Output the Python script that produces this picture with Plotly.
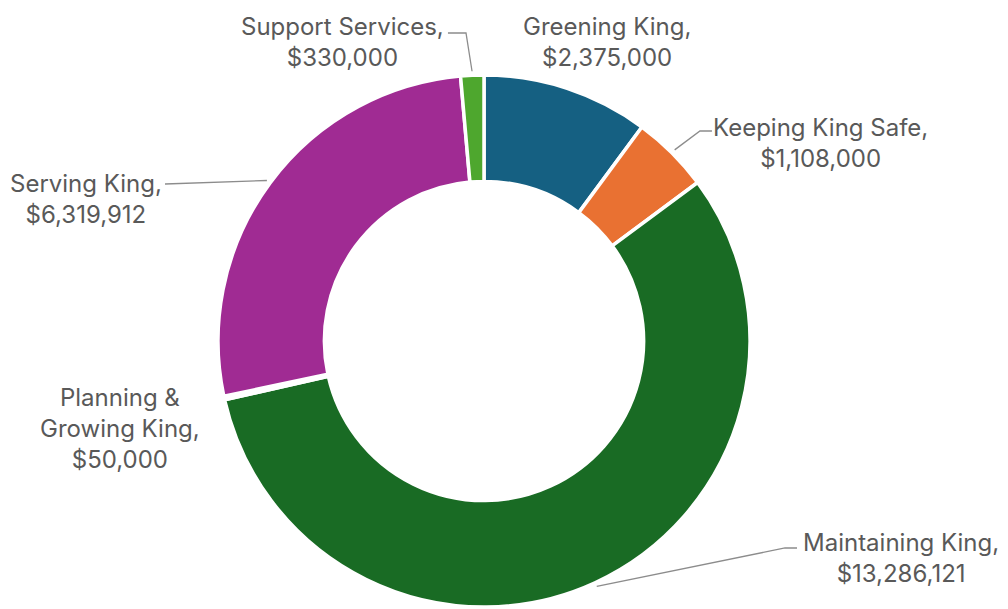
import math
import plotly.graph_objects as go

# Budget by program area
programs = ["Greening King", "Keeping King Safe", "Maintaining King",
            "Planning & Growing King", "Serving King", "Support Services"]
amounts = [2375000, 1108000, 13286121, 50000, 6319912, 330000]
colors = ["#156082", "#E97132", "#196B24", "#0F9ED5", "#A02B93", "#4EA72E"]

# Label text as it is broken across lines
label_lines = {
    "Greening King": ["Greening King,"],
    "Keeping King Safe": ["Keeping King Safe,"],
    "Maintaining King": ["Maintaining King,"],
    "Planning & Growing King": ["Planning &", "Growing King,"],
    "Serving King": ["Serving King,"],
    "Support Services": ["Support Services,"],
}

W, H = 1008, 609
CX, CY, R = 484, 341, 266          # donut centre and outer radius (px)
HOLE = 0.60

# label centres (px) and leader-line waypoints from label side toward slice
label_pos = {
    "Greening King": (607, 42),
    "Keeping King Safe": (820, 143),
    "Maintaining King": (901, 558),
    "Planning & Growing King": (120, 428),
    "Serving King": (86, 199),
    "Support Services": (342, 42),
}
leader_elbows = {
    "Keeping King Safe": [(712, 131), (700, 131)],
    "Maintaining King": [(797, 548), (785, 548)],
    "Serving King": [(165, 184)],
    "Support Services": [(448, 33), (466, 33)],
}

fig = go.Figure(go.Pie(
    labels=programs,
    values=amounts,
    hole=HOLE,
    sort=False,
    direction="clockwise",
    rotation=0,
    marker=dict(colors=colors, line=dict(color="white", width=3.5)),
    textinfo="none",
    hoverinfo="label+value",
    showlegend=False,
    domain=dict(x=[(CX - R) / W, (CX + R) / W],
                y=[(H - CY - R) / H, (H - CY + R) / H]),
))


def to_paper(px, py):
    return px / W, 1 - py / H


total = sum(amounts)
cum = 0.0
shapes = []
annotations = []
for name, val in zip(programs, amounts):
    mid = (cum + val / 2) / total * 2 * math.pi
    cum += val
    lines = label_lines[name] + ["${:,.0f}".format(val)]
    lx, ly = label_pos[name]
    ax, ay = to_paper(lx, ly)
    annotations.append(dict(
        x=ax, y=ay, xref="paper", yref="paper",
        text="<br>".join(lines), showarrow=False,
        xanchor="center", yanchor="middle", align="center",
        font=dict(family="Inter, Lato, sans-serif", size=24, color="#595959"),
    ))
    if name in leader_elbows:
        tip = (CX + R * 1.015 * math.sin(mid), CY - R * 1.015 * math.cos(mid))
        pts = leader_elbows[name] + [tip]
        path = "M " + " L ".join("{:.4f},{:.4f}".format(*to_paper(*p)) for p in pts)
        shapes.append(dict(type="path", path=path, xref="paper", yref="paper",
                           line=dict(color="#8C8C8C", width=1.3)))

fig.update_layout(
    width=W, height=H,
    margin=dict(l=0, r=0, t=0, b=0),
    paper_bgcolor="white",
    plot_bgcolor="white",
    shapes=shapes,
    annotations=annotations,
)

fig.write_html("out.html")
